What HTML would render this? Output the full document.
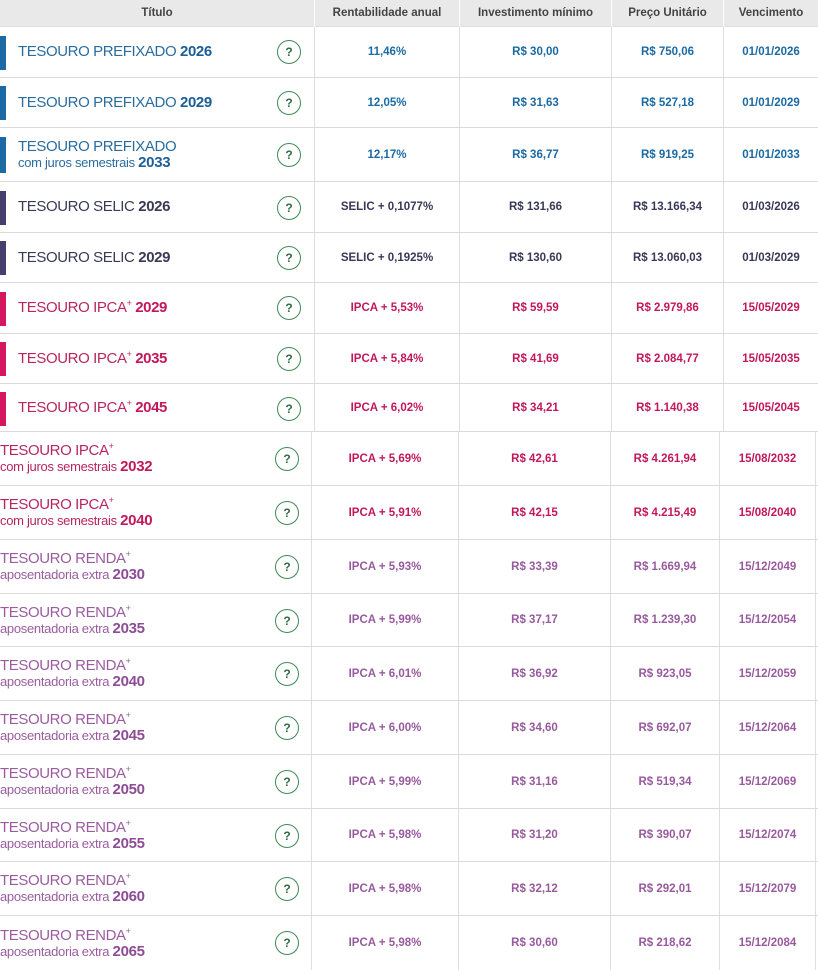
<!DOCTYPE html>
<html><head><meta charset="utf-8"><style>
*{margin:0;padding:0;box-sizing:border-box}
body{width:818px;height:966px;background:#fff;overflow:hidden;position:relative;font-family:"Liberation Sans",sans-serif}
.h{position:absolute;top:0;left:0;width:818px;height:27px;background:#e9e9e9;border-bottom:1px solid #ddd}
.h div{position:absolute;top:0;height:27px;line-height:26px;text-align:center;font-size:11.5px;font-weight:bold;color:#444;border-left:1px solid #fff}
.r{position:absolute;left:0;width:818px;border-bottom:1px solid #dadada}
.bar{position:absolute;left:0;width:6px}
.t{position:absolute;top:0;height:100%;display:flex;flex-direction:column;justify-content:center;font-size:15px;letter-spacing:-0.4px;line-height:16px;white-space:nowrap}
.t b{font-weight:bold}
.t .s{font-size:13px;letter-spacing:-0.3px;line-height:15px}
.t sup{font-size:9px;vertical-align:6px;line-height:0}
.q{position:absolute;width:24px;height:24px;border:1px solid #3e8a55;border-radius:50%;color:#2f6e41;font-size:12px;font-weight:bold;text-align:center;line-height:22px}
.c{position:absolute;top:0;height:100%;display:flex;align-items:center;justify-content:center;font-size:11.5px;font-weight:bold;border-left:1px solid #dedede;white-space:nowrap}
</style></head><body>
<div class="h">
<div style="left:0;width:314px;border-left:none">Título</div>
<div style="left:314px;width:145px">Rentabilidade anual</div>
<div style="left:459px;width:152px">Investimento mínimo</div>
<div style="left:611px;width:112px">Preço Unitário</div>
<div style="left:723px;width:95px">Vencimento</div>
</div>

<div class="r" style="top:27px;height:51px;color:#1b6aa3"><i class="bar" style="top:9px;height:34px;background:#1b6aa3"></i><div class="t" style="left:18px;color:#2a6d9e"><span>TESOURO PREFIXADO <b style="color:#1b5f98">2026</b></span></div><span class="q" style="left:277px;top:13px">?</span><div class="c" style="left:314px;width:145px">11,46%</div><div class="c" style="left:459px;width:152px">R$ 30,00</div><div class="c" style="left:611px;width:112px">R$ 750,06</div><div class="c" style="left:723px;width:95px">01/01/2026</div></div>
<div class="r" style="top:78px;height:50px;color:#1b6aa3"><i class="bar" style="top:8px;height:34px;background:#1b6aa3"></i><div class="t" style="left:18px;color:#2a6d9e"><span>TESOURO PREFIXADO <b style="color:#1b5f98">2029</b></span></div><span class="q" style="left:277px;top:13px">?</span><div class="c" style="left:314px;width:145px">12,05%</div><div class="c" style="left:459px;width:152px">R$ 31,63</div><div class="c" style="left:611px;width:112px">R$ 527,18</div><div class="c" style="left:723px;width:95px">01/01/2029</div></div>
<div class="r" style="top:128px;height:54px;color:#1b6aa3"><i class="bar" style="top:9px;height:36px;background:#1b6aa3"></i><div class="t" style="left:18px;color:#2a6d9e"><span>TESOURO PREFIXADO</span><span class="s">com juros semestrais <b style="font-size:15px;color:#1b5f98">2033</b></span></div><span class="q" style="left:277px;top:15px">?</span><div class="c" style="left:314px;width:145px">12,17%</div><div class="c" style="left:459px;width:152px">R$ 36,77</div><div class="c" style="left:611px;width:112px">R$ 919,25</div><div class="c" style="left:723px;width:95px">01/01/2033</div></div>
<div class="r" style="top:182px;height:51px;color:#3a3858"><i class="bar" style="top:9px;height:34px;background:#463f6e"></i><div class="t" style="left:18px;color:#3a3a55"><span>TESOURO SELIC <b>2026</b></span></div><span class="q" style="left:277px;top:14px">?</span><div class="c" style="left:314px;width:145px">SELIC + 0,1077%</div><div class="c" style="left:459px;width:152px">R$ 131,66</div><div class="c" style="left:611px;width:112px">R$ 13.166,34</div><div class="c" style="left:723px;width:95px">01/03/2026</div></div>
<div class="r" style="top:233px;height:50px;color:#3a3858"><i class="bar" style="top:8px;height:34px;background:#463f6e"></i><div class="t" style="left:18px;color:#3a3a55"><span>TESOURO SELIC <b>2029</b></span></div><span class="q" style="left:277px;top:13px">?</span><div class="c" style="left:314px;width:145px">SELIC + 0,1925%</div><div class="c" style="left:459px;width:152px">R$ 130,60</div><div class="c" style="left:611px;width:112px">R$ 13.060,03</div><div class="c" style="left:723px;width:95px">01/03/2029</div></div>
<div class="r" style="top:283px;height:51px;color:#c2185b"><i class="bar" style="top:9px;height:34px;background:#d4175f"></i><div class="t" style="left:18px;color:#b8265e"><span>TESOURO IPCA<sup>+</sup> <b style="color:#c2185b">2029</b></span></div><span class="q" style="left:277px;top:13px">?</span><div class="c" style="left:314px;width:145px">IPCA + 5,53%</div><div class="c" style="left:459px;width:152px">R$ 59,59</div><div class="c" style="left:611px;width:112px">R$ 2.979,86</div><div class="c" style="left:723px;width:95px">15/05/2029</div></div>
<div class="r" style="top:334px;height:50px;color:#c2185b"><i class="bar" style="top:8px;height:34px;background:#d4175f"></i><div class="t" style="left:18px;color:#b8265e"><span>TESOURO IPCA<sup>+</sup> <b style="color:#c2185b">2035</b></span></div><span class="q" style="left:277px;top:13px">?</span><div class="c" style="left:314px;width:145px">IPCA + 5,84%</div><div class="c" style="left:459px;width:152px">R$ 41,69</div><div class="c" style="left:611px;width:112px">R$ 2.084,77</div><div class="c" style="left:723px;width:95px">15/05/2035</div></div>
<div class="r" style="top:384px;height:48px;color:#c2185b"><i class="bar" style="top:8px;height:34px;background:#d4175f"></i><div class="t" style="left:18px;color:#b8265e"><span>TESOURO IPCA<sup>+</sup> <b style="color:#c2185b">2045</b></span></div><span class="q" style="left:277px;top:13px">?</span><div class="c" style="left:314px;width:145px">IPCA + 6,02%</div><div class="c" style="left:459px;width:152px">R$ 34,21</div><div class="c" style="left:611px;width:112px">R$ 1.140,38</div><div class="c" style="left:723px;width:95px">15/05/2045</div></div>

<div class="r" style="top:432px;height:54px;color:#c2185b"><div class="t" style="left:0;color:#b8265e"><span>TESOURO IPCA<sup>+</sup></span><span class="s">com juros semestrais <b style="font-size:15px;color:#c2185b">2032</b></span></div><span class="q" style="left:275px;top:15px">?</span><div class="c" style="left:311px;width:147px">IPCA + 5,69%</div><div class="c" style="left:458px;width:152px">R$ 42,61</div><div class="c" style="left:610px;width:109px">R$ 4.261,94</div><div class="c" style="left:719px;width:96px">15/08/2032</div><div class="c" style="left:815px;width:3px"></div></div>
<div class="r" style="top:486px;height:54px;color:#c2185b"><div class="t" style="left:0;color:#b8265e"><span>TESOURO IPCA<sup>+</sup></span><span class="s">com juros semestrais <b style="font-size:15px;color:#c2185b">2040</b></span></div><span class="q" style="left:275px;top:15px">?</span><div class="c" style="left:311px;width:147px">IPCA + 5,91%</div><div class="c" style="left:458px;width:152px">R$ 42,15</div><div class="c" style="left:610px;width:109px">R$ 4.215,49</div><div class="c" style="left:719px;width:96px">15/08/2040</div><div class="c" style="left:815px;width:3px"></div></div>
<div class="r" style="top:540px;height:54px;color:#985a9e"><div class="t" style="left:0;color:#9a5c9f"><span>TESOURO RENDA<sup>+</sup></span><span class="s">aposentadoria extra <b style="font-size:15px;color:#8e4c96">2030</b></span></div><span class="q" style="left:275px;top:15px">?</span><div class="c" style="left:311px;width:147px">IPCA + 5,93%</div><div class="c" style="left:458px;width:152px">R$ 33,39</div><div class="c" style="left:610px;width:109px">R$ 1.669,94</div><div class="c" style="left:719px;width:96px">15/12/2049</div><div class="c" style="left:815px;width:3px"></div></div>
<div class="r" style="top:594px;height:53px;color:#985a9e"><div class="t" style="left:0;color:#9a5c9f"><span>TESOURO RENDA<sup>+</sup></span><span class="s">aposentadoria extra <b style="font-size:15px;color:#8e4c96">2035</b></span></div><span class="q" style="left:275px;top:15px">?</span><div class="c" style="left:311px;width:147px">IPCA + 5,99%</div><div class="c" style="left:458px;width:152px">R$ 37,17</div><div class="c" style="left:610px;width:109px">R$ 1.239,30</div><div class="c" style="left:719px;width:96px">15/12/2054</div><div class="c" style="left:815px;width:3px"></div></div>
<div class="r" style="top:647px;height:54px;color:#985a9e"><div class="t" style="left:0;color:#9a5c9f"><span>TESOURO RENDA<sup>+</sup></span><span class="s">aposentadoria extra <b style="font-size:15px;color:#8e4c96">2040</b></span></div><span class="q" style="left:275px;top:15px">?</span><div class="c" style="left:311px;width:147px">IPCA + 6,01%</div><div class="c" style="left:458px;width:152px">R$ 36,92</div><div class="c" style="left:610px;width:109px">R$ 923,05</div><div class="c" style="left:719px;width:96px">15/12/2059</div><div class="c" style="left:815px;width:3px"></div></div>
<div class="r" style="top:701px;height:54px;color:#985a9e"><div class="t" style="left:0;color:#9a5c9f"><span>TESOURO RENDA<sup>+</sup></span><span class="s">aposentadoria extra <b style="font-size:15px;color:#8e4c96">2045</b></span></div><span class="q" style="left:275px;top:15px">?</span><div class="c" style="left:311px;width:147px">IPCA + 6,00%</div><div class="c" style="left:458px;width:152px">R$ 34,60</div><div class="c" style="left:610px;width:109px">R$ 692,07</div><div class="c" style="left:719px;width:96px">15/12/2064</div><div class="c" style="left:815px;width:3px"></div></div>
<div class="r" style="top:755px;height:54px;color:#985a9e"><div class="t" style="left:0;color:#9a5c9f"><span>TESOURO RENDA<sup>+</sup></span><span class="s">aposentadoria extra <b style="font-size:15px;color:#8e4c96">2050</b></span></div><span class="q" style="left:275px;top:15px">?</span><div class="c" style="left:311px;width:147px">IPCA + 5,99%</div><div class="c" style="left:458px;width:152px">R$ 31,16</div><div class="c" style="left:610px;width:109px">R$ 519,34</div><div class="c" style="left:719px;width:96px">15/12/2069</div><div class="c" style="left:815px;width:3px"></div></div>
<div class="r" style="top:809px;height:53px;color:#985a9e"><div class="t" style="left:0;color:#9a5c9f"><span>TESOURO RENDA<sup>+</sup></span><span class="s">aposentadoria extra <b style="font-size:15px;color:#8e4c96">2055</b></span></div><span class="q" style="left:275px;top:15px">?</span><div class="c" style="left:311px;width:147px">IPCA + 5,98%</div><div class="c" style="left:458px;width:152px">R$ 31,20</div><div class="c" style="left:610px;width:109px">R$ 390,07</div><div class="c" style="left:719px;width:96px">15/12/2074</div><div class="c" style="left:815px;width:3px"></div></div>
<div class="r" style="top:862px;height:54px;color:#985a9e"><div class="t" style="left:0;color:#9a5c9f"><span>TESOURO RENDA<sup>+</sup></span><span class="s">aposentadoria extra <b style="font-size:15px;color:#8e4c96">2060</b></span></div><span class="q" style="left:275px;top:15px">?</span><div class="c" style="left:311px;width:147px">IPCA + 5,98%</div><div class="c" style="left:458px;width:152px">R$ 32,12</div><div class="c" style="left:610px;width:109px">R$ 292,01</div><div class="c" style="left:719px;width:96px">15/12/2079</div><div class="c" style="left:815px;width:3px"></div></div>
<div class="r" style="top:916px;height:54px;color:#985a9e;border-bottom:none"><div class="t" style="left:0;color:#9a5c9f"><span>TESOURO RENDA<sup>+</sup></span><span class="s">aposentadoria extra <b style="font-size:15px;color:#8e4c96">2065</b></span></div><span class="q" style="left:275px;top:15px">?</span><div class="c" style="left:311px;width:147px">IPCA + 5,98%</div><div class="c" style="left:458px;width:152px">R$ 30,60</div><div class="c" style="left:610px;width:109px">R$ 218,62</div><div class="c" style="left:719px;width:96px">15/12/2084</div><div class="c" style="left:815px;width:3px"></div></div>
</body></html>
